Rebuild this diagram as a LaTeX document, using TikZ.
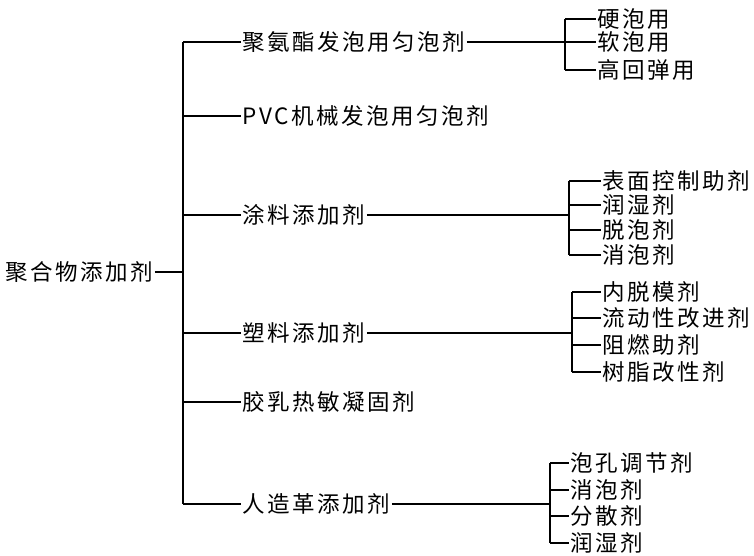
\documentclass[tikz,border=0pt]{standalone}
\usepackage{fontspec}
\setmainfont{Noto Sans CJK SC}[LetterSpace=11]
\usetikzlibrary{positioning}

\begin{document}
\begin{tikzpicture}[x=1pt,y=-1pt,line width=1.5pt,
 lbl/.style={anchor=west,inner sep=1pt,font=\fontsize{22.5}{24}\selectfont}]
\useasboundingbox (0,0) rectangle (754,555);
% root and first level
\node[lbl] (root) at (4,272) {聚合物添加剂};
\coordinate (top) at (183,42);
\coordinate (bot) at (183,504);
\node[lbl] (pu) at (241,42) {聚氨酯发泡用匀泡剂};
\node[lbl] (pvc) at (241,116) {PVC机械发泡用匀泡剂};
\node[lbl] (tl) at (241,215) {涂料添加剂};
\node[lbl] (sl) at (241,333) {塑料添加剂};
\node[lbl] (jr) at (241,402) {胶乳热敏凝固剂};
\node[lbl] (rzg) at (241,504) {人造革添加剂};
\draw (root.east) -- (top |- root.east);
\draw (top) -- (bot);
\foreach \n in {pu,pvc,tl,sl,jr,rzg}
 \draw (top |- \n.west) -- (\n.west);
% polyurethane foam
\coordinate (pus) at (565,42);
\node[lbl] (pu1) at (596,19) {硬泡用};
\node[lbl] (pu2) at (596,42) {软泡用};
\node[lbl] (pu3) at (596,70) {高回弹用};
% coatings
\coordinate (tls) at (569,215);
\node[lbl] (tl1) at (601,181) {表面控制助剂};
\node[lbl] (tl2) at (601,205) {润湿剂};
\node[lbl] (tl3) at (601,230) {脱泡剂};
\node[lbl] (tl4) at (601,255) {消泡剂};
% plastics
\coordinate (sls) at (572,333);
\node[lbl] (sl1) at (601,292) {内脱模剂};
\node[lbl] (sl2) at (601,318) {流动性改进剂};
\node[lbl] (sl3) at (601,345) {阻燃助剂};
\node[lbl] (sl4) at (601,372) {树脂改性剂};
% artificial leather
\coordinate (rzgs) at (550,504);
\node[lbl] (rzg1) at (569,463) {泡孔调节剂};
\node[lbl] (rzg2) at (569,490) {消泡剂};
\node[lbl] (rzg3) at (569,516) {分散剂};
\node[lbl] (rzg4) at (569,543) {润湿剂};
\draw (pu.east) -- (pus);
\draw (pus |- pu1.west) -- (pus |- pu3.west);
\foreach \n in {pu1,pu2,pu3} \draw (pus |- \n.west) -- (\n.west);
\draw (tl.east) -- (tls);
\draw (tls |- tl1.west) -- (tls |- tl4.west);
\foreach \n in {tl1,tl2,tl3,tl4} \draw (tls |- \n.west) -- (\n.west);
\draw (sl.east) -- (sls);
\draw (sls |- sl1.west) -- (sls |- sl4.west);
\foreach \n in {sl1,sl2,sl3,sl4} \draw (sls |- \n.west) -- (\n.west);
\draw (rzg.east) -- (rzgs);
\draw (rzgs |- rzg1.west) -- (rzgs |- rzg4.west);
\foreach \n in {rzg1,rzg2,rzg3,rzg4} \draw (rzgs |- \n.west) -- (\n.west);
\end{tikzpicture}
\end{document}
